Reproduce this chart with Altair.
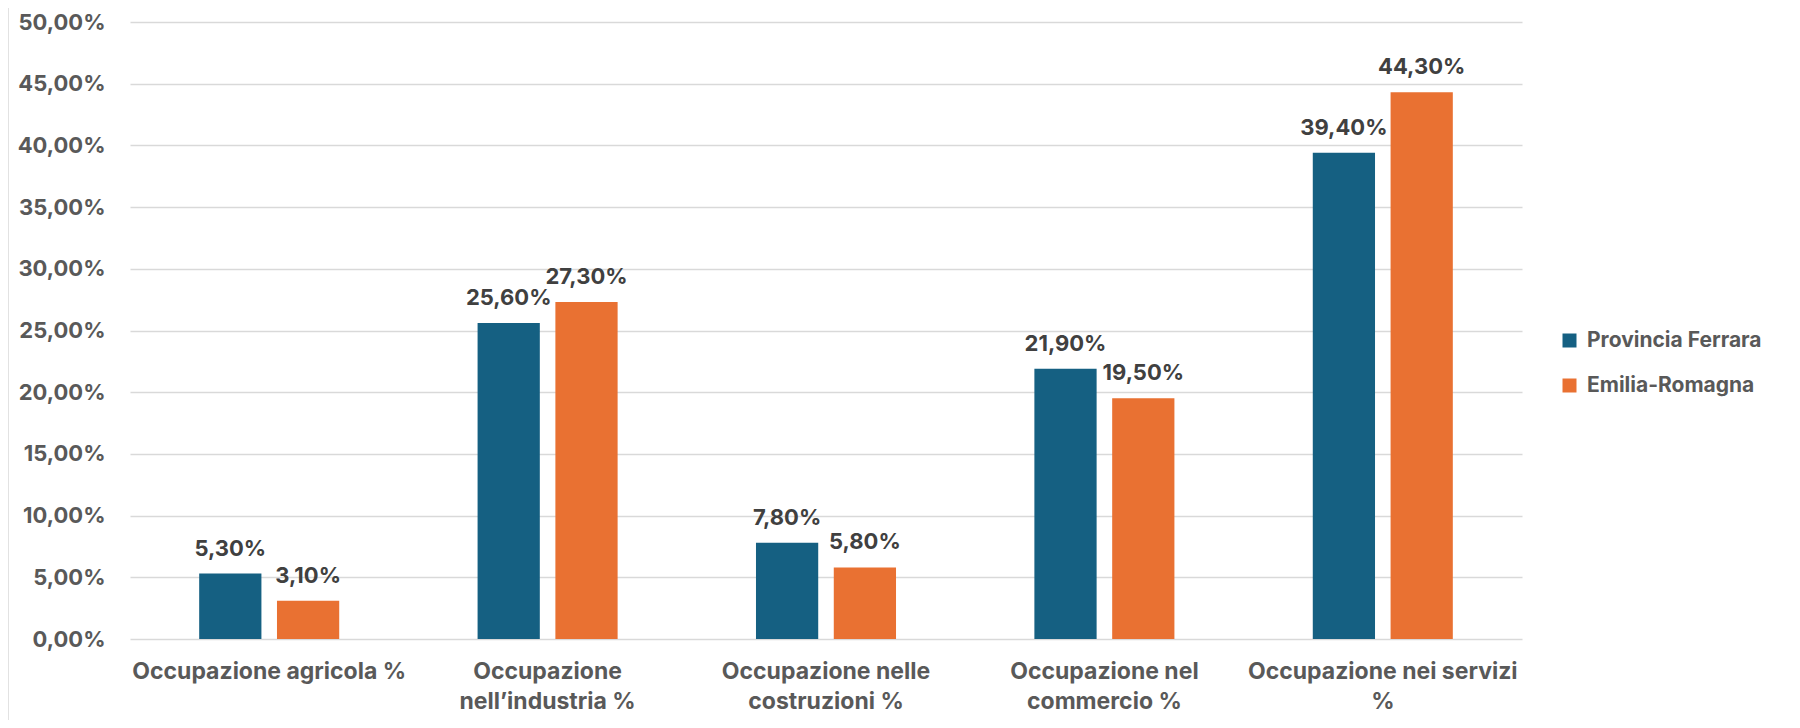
import altair as alt
import pandas as pd

categories = [
    "Occupazione agricola %",
    "Occupazione\nnell’industria %",
    "Occupazione nelle\ncostruzioni %",
    "Occupazione nel\ncommercio %",
    "Occupazione nei servizi\n%",
]
series = ["Provincia Ferrara", "Emilia-Romagna"]
ferrara = [5.3, 25.6, 7.8, 21.9, 39.4]
emilia = [3.1, 27.3, 5.8, 19.5, 44.3]
colors = ["#156082", "#E97132"]
y_ticks = [0, 5, 10, 15, 20, 25, 30, 35, 40, 45, 50]

rows = []
for c, f, e in zip(categories, ferrara, emilia):
    rows.append({"cat": c, "serie": series[0], "val": f})
    rows.append({"cat": c, "serie": series[1], "val": e})
df = pd.DataFrame(rows)

LABEL_GRAY = "#595959"
FONT = "Inter"

x_enc = alt.X(
    "cat:N",
    sort=categories,
    scale=alt.Scale(paddingInner=0.497, paddingOuter=0.2485),
    axis=alt.Axis(
        title=None, labelAngle=0, labelExpr="split(datum.label, '\\n')",
        labelFont=FONT, labelFontSize=23, labelFontWeight="bold",
        labelColor=LABEL_GRAY, labelPadding=21, labelLineHeight=30,
        ticks=False, domain=False, labelLimit=400, labelBaseline="top",
    ),
)
xoff_enc = alt.XOffset("serie:N", sort=series, scale=alt.Scale(paddingInner=0.2, paddingOuter=0))
y_enc = alt.Y(
    "val:Q",
    scale=alt.Scale(domain=[0, 50], nice=False),
    axis=alt.Axis(
        values=y_ticks, title=None,
        labelExpr="replace(format(datum.value, '.2f'), '.', ',') + '%'",
        gridColor="#D9D9D9", gridWidth=1.5, domain=False, ticks=False,
        labelPadding=25, labelFont=FONT, labelFontSize=22, labelFontWeight="bold",
        labelColor=LABEL_GRAY,
    ),
)
color_enc = alt.Color(
    "serie:N", sort=series,
    scale=alt.Scale(domain=series, range=colors),
    legend=alt.Legend(
        title=None, orient="none", legendX=1429, legendY=308,
        symbolType="square", symbolSize=196, symbolStrokeWidth=0,
        labelFont=FONT, labelFontSize=21, labelFontWeight="bold",
        labelColor=LABEL_GRAY, rowPadding=23, labelOffset=7, padding=0,
        labelLimit=400,
    ),
)

base = alt.Chart(df).encode(x=x_enc, xOffset=xoff_enc, y=y_enc)

bars = base.mark_bar().encode(color=color_enc)
labels = base.mark_text(
    dy=-18, baseline="alphabetic", font=FONT, fontSize=22, fontWeight="bold", color="#404040"
).transform_calculate(
    lbl="replace(format(datum.val, '.2f'), '.', ',') + '%'"
).encode(text="lbl:N")

border = alt.Chart(pd.DataFrame({"a": [0]})).mark_rule(color="#D9D9D9", strokeWidth=1.5).encode(
    x=alt.value(-122), y=alt.value(-14), y2=alt.value(700)
)

chart = alt.layer(border, bars, labels).properties(
    width=1392, height=617,
    autosize=alt.AutoSizeParams(type="none"),
    padding={"left": 122, "top": 14, "right": 270, "bottom": 81},
).configure_view(stroke=None)

chart.save("out.html", embed_options={"renderer": "svg", "actions": False})
